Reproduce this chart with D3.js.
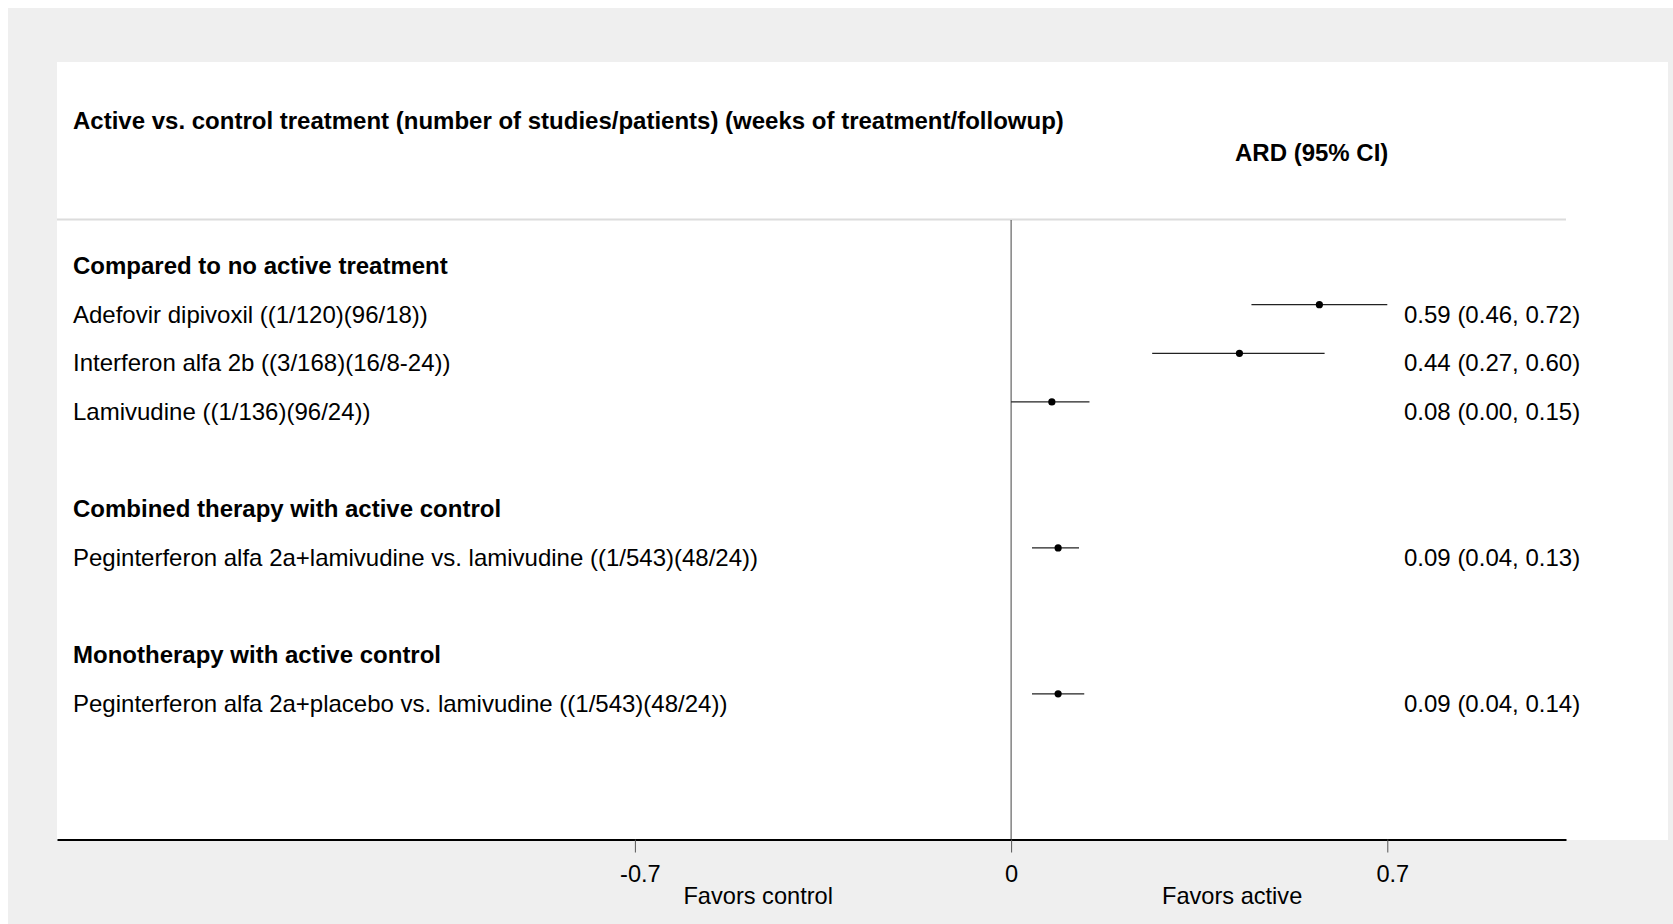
<!DOCTYPE html>
<html>
<head>
<meta charset="utf-8">
<script src="https://cdn.jsdelivr.net/npm/d3@7"></script>
<style>
  body { margin: 0; background: #fff; }
  svg { display: block; font-family: "Liberation Sans", Arial, sans-serif; }
</style>
</head>
<body>
<script>
// forest plot data
const groups = ["Compared to no active treatment", "Combined therapy with active control", "Monotherapy with active control"];
const studies = [
  "Adefovir dipivoxil ((1/120)(96/18))",
  "Interferon alfa 2b ((3/168)(16/8-24))",
  "Lamivudine ((1/136)(96/24))",
  "Peginterferon alfa 2a+lamivudine vs. lamivudine ((1/543)(48/24))",
  "Peginterferon alfa 2a+placebo vs. lamivudine ((1/543)(48/24))"
];
const studyGroup = [0, 0, 0, 1, 2];
const est = [0.59, 0.437, 0.078, 0.09, 0.09];
const lo = [0.46, 0.27, 0.00, 0.04, 0.04];
const hi = [0.72, 0.60, 0.15, 0.13, 0.14];
const tickValues = [-0.72, 0, 0.72];
const favors = [["Favors control", -0.484], ["Favors active", 0.423]];

const W = 1673, H = 924;
const svg = d3.select("body").append("svg").attr("width", W).attr("height", H);

svg.append("rect").attr("x", 8).attr("y", 8).attr("width", W - 8).attr("height", H - 8).attr("fill", "#efefef");
svg.append("rect").attr("x", 57).attr("y", 62).attr("width", 1611).attr("height", 778).attr("fill", "#fff");

// build rows: header, items, blank between groups
let rows = [];
groups.forEach((g, gi) => {
  if (gi > 0) rows.push({type: "blank"});
  rows.push({type: "head", text: g});
  studies.forEach((s, i) => {
    if (studyGroup[i] === gi) rows.push({type: "item", text: s, est: est[i], lo: lo[i], hi: hi[i]});
  });
});
rows.forEach((r, i) => r.idx = i);

const x = d3.scaleLinear().domain([-1.826, 1.062]).range([57, 1566]);
const y = d3.scaleLinear().domain([0, 1]).range([274, 322.65]);
const fmt = d3.format(".2f");

// header
svg.append("text").attr("x", 73).attr("y", 129)
  .attr("font-size", 24).attr("font-weight", "bold").attr("fill", "#000")
  .text("Active vs. control treatment (number of studies/patients) (weeks of treatment/followup)");
svg.append("text").attr("x", 1235).attr("y", 161)
  .attr("font-size", 24).attr("font-weight", "bold").attr("fill", "#000")
  .text("ARD (95% CI)");
svg.append("line").attr("x1", 57).attr("x2", 1566).attr("y1", 219.5).attr("y2", 219.5)
  .attr("stroke", "#dcdcdc").attr("stroke-width", 2);

// zero line
svg.append("line").attr("x1", x(0)).attr("x2", x(0)).attr("y1", 220).attr("y2", 839)
  .attr("stroke", "#444").attr("stroke-width", 1);

// row labels
svg.selectAll(".rowLabel")
  .data(rows.filter(r => r.type !== "blank"))
  .enter().append("text")
  .attr("class", "rowLabel")
  .attr("x", 73)
  .attr("y", d => y(d.idx))
  .attr("font-size", 24)
  .attr("font-weight", d => d.type === "head" ? "bold" : "normal")
  .attr("fill", "#000")
  .text(d => d.text);

const items = rows.filter(r => r.type === "item");

svg.selectAll(".ci")
  .data(items)
  .enter().append("line")
  .attr("class", "ci")
  .attr("x1", d => x(d.lo)).attr("x2", d => x(d.hi))
  .attr("y1", d => y(d.idx) - 18).attr("y2", d => y(d.idx) - 18)
  .attr("stroke", "#222").attr("stroke-width", 1.3);

svg.selectAll(".pt")
  .data(items)
  .enter().append("circle")
  .attr("class", "pt")
  .attr("cx", d => x(d.est)).attr("cy", d => y(d.idx) - 18)
  .attr("r", 3.6).attr("fill", "#000");

svg.selectAll(".ard")
  .data(items)
  .enter().append("text")
  .attr("class", "ard")
  .attr("x", 1404)
  .attr("y", d => y(d.idx))
  .attr("font-size", 24).attr("fill", "#000")
  .text(d => `${fmt(d.est)} (${fmt(d.lo)}, ${fmt(d.hi)})`);

// x axis
const axis = d3.axisBottom(x)
  .tickValues(tickValues)
  .tickSize(13)
  .tickSizeOuter(0)
  .tickFormat(d => d3.format(".1~f")(d).replace("\u2212", "-"));

const gx = svg.append("g").attr("transform", "translate(0,839.5)").call(axis);
gx.select(".domain").attr("stroke", "#000").attr("stroke-width", 2);
gx.selectAll(".tick line").attr("stroke", "#555").attr("stroke-width", 1);
gx.selectAll(".tick text")
  .attr("y", 42).attr("dy", null)
  .attr("dx", d => d === 0 ? 0 : 5)
  .attr("font-size", 23.6).attr("font-family", "Liberation Sans, Arial, sans-serif")
  .attr("fill", "#000");

svg.selectAll(".fav")
  .data(favors)
  .enter().append("text")
  .attr("class", "fav")
  .attr("x", d => x(d[1]))
  .attr("y", 903.5)
  .attr("text-anchor", "middle")
  .attr("font-size", 23.6).attr("fill", "#000")
  .text(d => d[0]);
</script>
</body>
</html>
